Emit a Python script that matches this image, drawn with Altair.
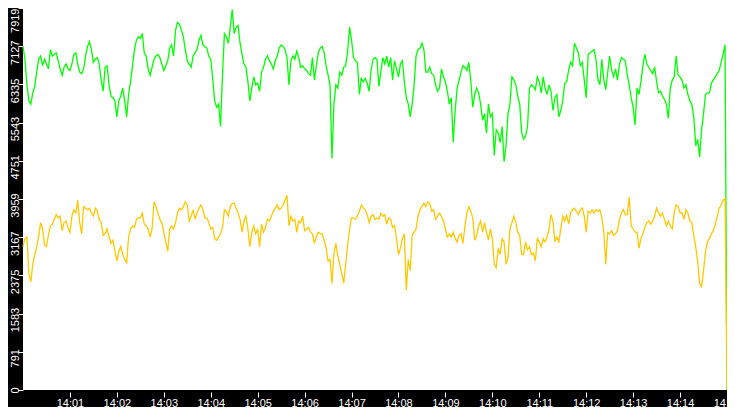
import altair as alt
import pandas as pd

# sample step: 2.5 s, starting 14:00:00
STEP_SECONDS = 2.5

green_1 = [7122, 6857, 6326, 5993, 5927, 6160, 6293, 6591, 6857, 6923,
           6724, 6857, 6757, 6658, 7056, 6923, 6956, 6989, 6824, 6658,
           6525, 6691, 6757, 6658, 6624, 6757, 6956, 6989, 6757, 6591,
           6558, 6658, 6923, 7122, 7222, 7056, 6790, 6857, 6890, 6757,
           6425, 6193, 6691, 6724, 6326, 6093, 6060, 5993, 5661, 5993,
           6093, 6259, 5993, 5661, 6126, 6392, 6724, 7056, 7255, 7321,
           7288, 7388, 6989, 6923, 6658, 6525, 6691, 6857, 6923, 6956,
           6890, 6757, 6624, 6724, 6824, 7089, 7155, 6923, 7454, 7620,
           7587, 7454, 7321, 7056, 6824, 6757, 6691, 6923, 6989, 7056,
           7255, 7355, 7155]
green_2 = [7122, 7089, 6923, 6857, 6458, 5993, 5861, 5927, 5462, 6525,
           7388, 7321, 7189, 7521, 7886, 7388, 7521, 7554, 7189, 6956,
           6757, 6691, 6392, 5993, 6259, 6492, 6326, 6359, 6193, 6591,
           6691, 6857, 6923, 6824, 6757, 6658, 6824, 6923, 7089, 7155,
           7122, 7056, 6890, 6326, 6824, 6923, 6857, 7023, 6890, 6691,
           6724, 6658, 6624, 6558, 6525, 6890, 6425, 6724, 6989, 7089,
           7122, 6989, 6724, 6525, 6326, 4798, 5927, 6326, 6259, 6591,
           6525, 6691, 6724, 7023, 7521, 7255, 6890, 6824, 6790, 6126,
           6458, 6392, 6458, 6359, 6193, 6624, 6857, 6890, 6857, 6293]
green_3 = [6591, 6890, 6757, 6923, 6691, 6890, 6425, 6824, 6658, 6492,
           6757, 6824, 6392, 6060, 5927, 5661, 5927, 6326, 6923, 7056,
           7089, 7189, 7056, 6591, 6591, 6691, 6558, 6525, 6326, 6193,
           6259, 6658, 6492, 6392, 6193, 5927, 6060, 5130, 5794, 6259,
           6425, 6591, 6724, 6691, 6624, 6790, 6392, 5861, 6126, 6259,
           6160, 5927, 5595, 5728, 5329, 5927, 5661, 5728, 4865, 5396,
           5329, 5130, 5462, 4732, 5064, 5728, 5927, 6492, 6425, 6326,
           6093, 5927, 5329, 5197, 5263, 5462, 6259, 6326, 6293, 6226,
           6492, 6392, 6160, 6492, 6259, 6126, 6326, 6193, 5794, 6060]
green_4 = [6126, 5661, 5794, 5993, 6359, 6392, 6624, 6790, 6724, 7189,
           7089, 6989, 6724, 6790, 6425, 6060, 6956, 6989, 7023, 7056,
           6857, 6425, 6326, 6857, 6425, 6226, 6591, 6923, 6624, 6492,
           6658, 6425, 6757, 6890, 6857, 6824, 6525, 6326, 6060, 5861,
           5495, 6259, 6126, 6392, 6724, 6956, 6757, 6691, 6624, 6558,
           6691, 6392, 6160, 6193, 6093, 6027, 5927, 5628, 6259, 6425,
           6492, 6923, 6525, 6492, 6425, 6259, 6326, 6126, 5993, 5927,
           5661, 5064, 5197, 4832, 5396, 5728, 6126, 6160, 6160, 6359,
           6425, 6492, 6558, 6624, 6790, 6956, 7155, 0]

yellow_1 = [2972, 3138, 3171, 2408, 2242, 2607, 2806, 2972, 3171, 3470,
            3338, 3006, 2972, 3205, 3404, 3437, 3537, 3636, 3570, 3603,
            3304, 3470, 3503, 3371, 3271, 3603, 3736, 3669, 3935, 3470,
            3238, 3802, 3769, 3736, 3769, 3669, 3603, 3769, 3703, 3537,
            3470, 3205, 3238, 3338, 3171, 3039, 3105, 2873, 2673, 2873,
            2972, 2806, 2707, 2640, 3171, 3338, 3404, 3371, 3537, 3570,
            3570, 3669, 3437, 3404, 3338, 3171, 3338, 3902, 3802, 3669,
            3537, 3470, 3271, 3072, 2873, 3338, 3404, 3338, 3470, 3669,
            3769, 3736, 3802, 3902, 3835, 3503, 3603, 3736, 3537, 3669,
            3769, 3835, 3736]
yellow_2 = [3570, 3570, 3470, 3338, 3371, 3138, 3105, 3171, 3238, 3371,
            3736, 3703, 3603, 3802, 3869, 3869, 3769, 3669, 3537, 3271,
            3503, 3603, 3338, 2972, 3271, 3404, 3238, 3338, 2972, 3437,
            3271, 3371, 3537, 3503, 3603, 3703, 3769, 3835, 3736, 3769,
            3835, 3935, 4034, 3404, 3603, 3503, 3537, 3271, 3503, 3470,
            3603, 3304, 3338, 3371, 3271, 3238, 3039, 3171, 3271, 3238,
            3238, 3105, 2939, 2673, 2707, 2209, 2840, 3039, 2773, 2607,
            2408, 2209, 2607, 3006, 3338, 3570, 3570, 3537, 3603, 3703,
            3835, 3769, 3736, 3636, 3470, 3603, 3636, 3537, 3570, 3537]
yellow_3 = [3669, 3603, 3636, 3437, 3570, 3537, 3371, 3404, 3138, 2806,
            2939, 3138, 3238, 2076, 2707, 2474, 3205, 3271, 3338, 3603,
            3736, 3802, 3869, 3802, 3902, 3869, 3703, 3736, 3537, 3603,
            3669, 3603, 3503, 3338, 3171, 3238, 3171, 3271, 3138, 3072,
            3205, 3238, 3039, 3404, 3669, 3802, 3703, 3570, 3105, 3205,
            3404, 3503, 3271, 3470, 3271, 3105, 3338, 3138, 2607, 2541,
            2939, 2806, 3138, 3072, 2607, 2740, 3338, 3470, 3603, 3470,
            3271, 3205, 2806, 2806, 3072, 2906, 2972, 2806, 2840, 2673,
            3138, 3072, 2972, 3138, 3072, 3171, 3338, 3636, 3503, 3072]
yellow_4 = [3171, 3072, 3338, 3603, 3503, 3636, 3437, 3669, 3736, 3769,
            3703, 3636, 3736, 3769, 3603, 3271, 3703, 3669, 3736, 3669,
            3736, 3703, 3736, 3570, 3271, 2607, 3271, 3238, 3304, 3205,
            3238, 3304, 3537, 3669, 3736, 3636, 3636, 4001, 3404, 3338,
            3271, 3271, 2939, 3138, 3238, 3371, 3470, 3503, 3437, 3503,
            3603, 3769, 3669, 3603, 3669, 3537, 3404, 3503, 3404, 3338,
            3669, 3835, 3802, 3669, 3669, 3537, 3736, 3669, 3503, 3470,
            3205, 2972, 2673, 2209, 2142, 2474, 2873, 3072, 3138, 3238,
            3304, 3437, 3603, 3769, 3835, 3935, 3968, 0]

green = green_1 + green_2 + green_3 + green_4
yellow = yellow_1 + yellow_2 + yellow_3 + yellow_4

y_tick_values = [0, 791.9, 1583.8, 2375.7, 3167.6, 3959.5, 4751.4,
                 5543.3, 6335.2, 7127.1, 7919]
x_tick_minutes = [1, 2, 3, 4, 5, 6, 7, 8, 9, 10, 11, 12, 13, 14, 15]


def stamp(i):
    t = i * STEP_SECONDS
    m = int(t // 60)
    s = t - 60 * m
    return f"2024-01-01T14:{m:02d}:{s:06.3f}"


n = min(len(green), len(yellow))
df = pd.DataFrame({
    "t": [stamp(i) for i in range(n)],
    "a": green[:n],
    "b": yellow[:n],
})


def dt(minute):
    return alt.DateTime(year=2024, month=1, date=1, hours=14, minutes=minute)


x_enc = alt.X(
    "t:T",
    title="",
    scale=alt.Scale(domain=[dt(0), dt(15)], nice=False),
    axis=alt.Axis(
        values=[dt(m) for m in x_tick_minutes],
        format="%H:%M",
        tickSize=5,
        offset=2,
        labelPadding=0,
        labelFlush=False,
        labelOverlap=False,
        labelBaseline="top",
        labelAlign="center",
    ),
)

y_axis = alt.Axis(
    values=y_tick_values,
    labelExpr="floor(datum.value)",
    tickSize=5,
    labelAngle=270,
    labelAlign={"condition": {"test": "datum.value > 7900", "value": "right"},
                "value": "center"},
    labelBaseline="alphabetic",
    labelPadding=0,
    labelOffset={"condition": [{"test": "datum.value == 0", "value": 0},
                               {"test": "datum.value > 7900", "value": 0}],
                 "value": 6},
    labelFlush=False,
    labelOverlap=False,
)


def y_enc(field):
    return alt.Y(f"{field}:Q", title="",
                 scale=alt.Scale(domain=[0, 7919], nice=False, zero=True),
                 axis=y_axis)


base = alt.Chart(df)
line_a = base.mark_line(color="#00ff00", strokeWidth=1.3).encode(x=x_enc, y=y_enc("a"))
line_b = base.mark_line(color="#ffc800", strokeWidth=1.3).encode(x=x_enc, y=y_enc("b"))

chart = (
    alt.layer(line_a, line_b)
    .properties(
        width=704,
        height=382,
        autosize=alt.AutoSizeParams(type="none"),
        padding={"left": 15, "top": 0, "right": 0, "bottom": 17},
        background="black",
    )
    .configure_view(fill="white", strokeWidth=0)
    .configure_axis(
        domain=False,
        grid=False,
        labelColor="white",
        tickColor="white",
        tickWidth=1,
        labelFont="Liberation Sans",
        labelFontSize=11,
    )
)

chart.save("out.html", embed_options={"renderer": "svg", "actions": False})
